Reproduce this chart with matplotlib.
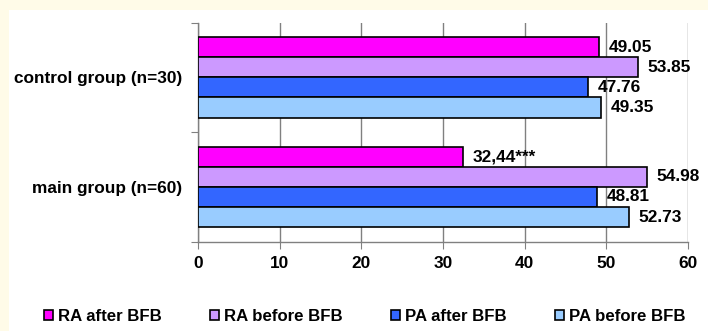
import numpy as np
import matplotlib
matplotlib.use('Agg')
import matplotlib.pyplot as plt
from matplotlib.patches import Rectangle

plt.rcParams['font.family'] = ['Liberation Sans', 'DejaVu Sans']
plt.rcParams['font.weight'] = 'bold'

# data
groups = ['main group (n=60)', 'control group (n=30)']
series = ['RA after BFB', 'RA before BFB', 'PA after BFB', 'PA before BFB']
ra_after = [32.44, 49.05]
ra_before = [54.98, 53.85]
pa_after = [48.81, 47.76]
pa_before = [52.73, 49.35]
labels_ra_after = ['32,44***', '49.05']
colours = ['#ff00ff', '#cc99ff', '#3366ff', '#99ccff']

values = [ra_after, ra_before, pa_after, pa_before]
fs = 12.4

fig = plt.figure(figsize=(7.08, 3.31), dpi=100)
fig.patch.set_facecolor('#fffbe8')
fig.patches.append(Rectangle((9/708, 0), 1, 1 - 10/331, transform=fig.transFigure,
                             facecolor='white', edgecolor='none', zorder=-10))

ax = fig.add_axes([198/708, 89.3/331, 490/708, 219/331])
ax.set_facecolor('white')

h = 0.183
y = np.arange(len(groups))
bars = []
for k, vals in enumerate(values):
    off = (1.5 - k) * h
    b = ax.barh(y + off, vals, height=h, color=colours[k], edgecolor='black',
                linewidth=1.2, label=series[k], zorder=3)
    bars.append(b)
    for i, v in enumerate(vals):
        txt = labels_ra_after[i] if k == 0 else '{:.2f}'.format(v)
        ax.annotate(txt, (v, y[i] + off), xytext=(7, 0), textcoords='offset points',
                    va='center', ha='left', fontsize=fs, fontweight='bold', zorder=4)

ax.set_xlim(0, 60)
ax.set_ylim(-0.5, 1.5)
ax.set_xticks(np.arange(0, 61, 10))
ax.tick_params(axis='x', labelsize=fs, length=5, color='#808080', pad=5)
ax.set_yticks([-0.5, 0.5, 1.5])
ax.set_yticklabels([])
ax.tick_params(axis='y', length=5, color='#808080')
ax.set_yticks(y, minor=True)
ax.set_yticklabels(groups, minor=True, fontsize=fs, fontweight='bold')
ax.tick_params(axis='y', which='minor', length=0, pad=11.5)
ax.xaxis.grid(True, color='#808080', linewidth=1, zorder=0)
ax.set_axisbelow(True)
for s in ['top', 'right']:
    ax.spines[s].set_visible(False)
for s in ['left', 'bottom']:
    ax.spines[s].set_color('#808080')
    ax.spines[s].set_linewidth(1)

fig.legend(handles=bars, labels=series, ncol=4, loc='center left',
           bbox_to_anchor=(44/708, 1 - 316.7/331), frameon=False,
           prop={'size': 12.1, 'weight': 'bold'}, handlelength=0.55,
           handleheight=0.55, handletextpad=0.3, columnspacing=2.85,
           borderpad=0, borderaxespad=0)

fig.savefig('out.png', dpi=100, facecolor=fig.get_facecolor())
